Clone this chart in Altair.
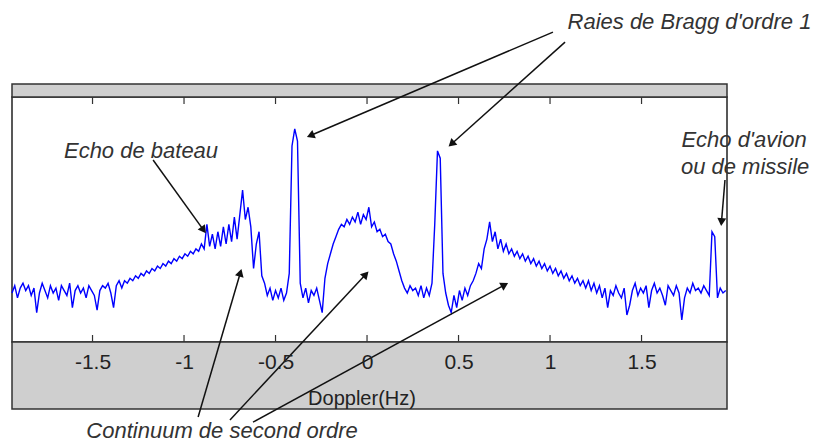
import math
import altair as alt
import pandas as pd

# ---- spectrum (relative level) ----
F0 = -1.94
DF = 0.015
LEVEL = [
    20, 23, 18, 22, 24, 21, 23, 19, 22, 12,
    20, 24, 21, 18, 23, 20, 22, 17, 23, 21,
    19, 24, 14, 21, 23, 20, 22, 18, 23, 21,
    19, 13, 21, 23, 22, 24, 20, 14, 23, 25,
    22, 25, 24, 26, 25, 27, 26, 28, 27, 29,
    28, 30, 29, 31, 30, 32, 31, 33, 32, 34,
    33, 35, 34, 36, 35, 37, 36, 38, 37, 40,
    38, 48, 39, 44, 38, 45, 39, 47, 40, 48,
    41, 51, 42, 52, 62, 50, 55, 47, 30, 40,
    45, 27, 24, 19, 22, 17, 21, 18, 22, 17,
    20, 28, 80, 87, 82, 24, 18, 22, 16, 21,
    19, 22, 17, 12, 26, 32, 36, 40, 43, 46,
    48, 47, 50, 48, 51, 49, 53, 48, 52, 50,
    55, 47, 49, 45, 46, 43, 44, 41, 40, 36,
    33, 29, 25, 22, 20, 23, 21, 22, 19, 23,
    18, 22, 19, 24, 48, 78, 75, 28, 20, 15,
    12, 19, 14, 21, 17, 22, 19, 23, 25, 28,
    32, 30, 38, 42, 49, 41, 45, 38, 42, 37,
    40, 36, 38, 35, 37, 34, 36, 33, 35, 32,
    34, 31, 33, 30, 32, 29, 31, 28, 30, 27,
    29, 26, 28, 25, 27, 24, 26, 23, 25, 22,
    25, 21, 24, 20, 23, 18, 22, 14, 21, 19,
    23, 20, 18, 22, 11, 15, 21, 24, 19, 22,
    20, 23, 14, 21, 24, 20, 22, 19, 15, 23,
    21, 19, 23, 20, 9, 18, 22, 20, 24, 21,
    22, 20, 23, 21, 19, 45, 43, 18, 22, 20,
    21,
]
FREQ = [round(F0 + DF * i, 4) for i in range(len(LEVEL))]

TICKS = [-1.5, -1, -0.5, 0, 0.5, 1, 1.5]
X_DOMAIN = [-1.94, 1.967]
Y_DOMAIN = [0, 100]

# ---- annotations ----
ARROW_X0 = [1.016, 1.082, -1.169, -0.923, -0.749, -0.623, 1.956]
ARROW_Y0 = [126.5, 122.4, 74.3, -30.6, -31.8, -32.7, 66.1]
ARROW_X1 = [-0.339, 0.437, -0.874, -0.683, 0.016, 0.781, 1.934]
ARROW_Y1 = [83.3, 79.2, 43.7, 30.6, 29.4, 24.5, 46.5]

TEXTS = ["Raies de Bragg d'ordre 1", "Echo de bateau", "Echo d'avion",
         "ou de missile", "Continuum de second ordre"]
TEXT_X = [1.762, -1.235, 2.060, 2.066, -0.792]
TEXT_Y = [130.6, 78.0, 82.4, 71.4, -36.5]

W, H = 715, 245
SX = W / (X_DOMAIN[1] - X_DOMAIN[0])
SY = H / (Y_DOMAIN[1] - Y_DOMAIN[0])
HEAD = 6.0  # px, from arrowhead centre to tip

rows = []
for x0, y0, x1, y1 in zip(ARROW_X0, ARROW_Y0, ARROW_X1, ARROW_Y1):
    dxp = (x1 - x0) * SX
    dyp = -(y1 - y0) * SY
    L = math.hypot(dxp, dyp)
    ux, uy = dxp / L, dyp / L
    hx = x1 - ux * HEAD / SX
    hy = y1 + uy * HEAD / SY
    ang = math.degrees(math.atan2(dxp, -dyp)) % 360
    rows.append(dict(x0=x0, y0=y0, hx=hx, hy=hy, angle=ang))
arrows = pd.DataFrame(rows)

spec = pd.DataFrame({"freq": FREQ, "level": LEVEL})
ticks_df = pd.DataFrame({"t": TICKS})
texts_df = pd.DataFrame({"label": TEXTS, "x": TEXT_X, "y": TEXT_Y})
one = pd.DataFrame({"a": [0]})

xs = alt.Scale(domain=X_DOMAIN, nice=False, zero=False)
ys = alt.Scale(domain=Y_DOMAIN, nice=False, zero=False)

FONT = "Liberation Sans"

top_band = alt.Chart(one).mark_rect(
    fill="#cfcfcf", stroke="#333333", strokeWidth=1.5
).encode(x=alt.value(0), x2=alt.value(W), y=alt.value(-13), y2=alt.value(0))

bottom_band = alt.Chart(one).mark_rect(
    fill="#cfcfcf", stroke="#333333", strokeWidth=1.5
).encode(x=alt.value(0), x2=alt.value(W), y=alt.value(H), y2=alt.value(H + 67))

line = alt.Chart(spec).mark_line(color="#0000ff", strokeWidth=1.4).encode(
    x=alt.X(
        "freq:Q", scale=xs,
        axis=alt.Axis(
            values=TICKS, labelExpr="datum.value + ''", ticks=False, tickSize=0,
            domain=False, grid=False, labelFontSize=21, labelFont=FONT,
            labelColor="#222222", labelPadding=20, labelBaseline="middle",
            labelFlush=False, labelOverlap=False,
            title="Doppler(Hz)", titleFont=FONT, titleFontSize=20,
            titleFontWeight="normal", titleColor="#222222",
            titleX=349.5, titleY=56, titleBaseline="middle", zindex=1,
        ),
    ),
    y=alt.Y("level:Q", scale=ys, axis=None),
)

bottom_ticks = alt.Chart(ticks_df).mark_rule(color="#333333", strokeWidth=1.2).encode(
    x=alt.X("t:Q", scale=xs), y=alt.value(H - 7), y2=alt.value(H)
)
top_ticks = alt.Chart(ticks_df).mark_rule(color="#333333", strokeWidth=1.2).encode(
    x=alt.X("t:Q", scale=xs), y=alt.value(0), y2=alt.value(7)
)

arrow_lines = alt.Chart(arrows).mark_rule(color="#111111", strokeWidth=1.5).encode(
    x=alt.X("x0:Q", scale=xs), y=alt.Y("y0:Q", scale=ys),
    x2="hx:Q", y2="hy:Q",
)
arrow_heads = alt.Chart(arrows).mark_point(
    shape="triangle-up", filled=True, color="#111111", size=80, opacity=1
).encode(
    x=alt.X("hx:Q", scale=xs), y=alt.Y("hy:Q", scale=ys),
    angle=alt.Angle("angle:Q", scale=None),
)

labels = alt.Chart(texts_df).mark_text(
    font=FONT, fontSize=22, fontStyle="italic", color="#333333",
    align="center", baseline="middle",
).encode(
    x=alt.X("x:Q", scale=xs), y=alt.Y("y:Q", scale=ys), text="label:N"
)

chart = alt.layer(
    top_band, bottom_band, line, bottom_ticks, top_ticks,
    arrow_lines, arrow_heads, labels,
).properties(
    width=W, height=H,
    autosize=alt.AutoSizeParams(type="none"),
    padding={"left": 4, "top": 89, "right": 86, "bottom": 115},
    background="white",
).configure_view(stroke="#222222", strokeWidth=1.5)

chart.save("out.html", embed_options={"renderer": "svg", "actions": False})
